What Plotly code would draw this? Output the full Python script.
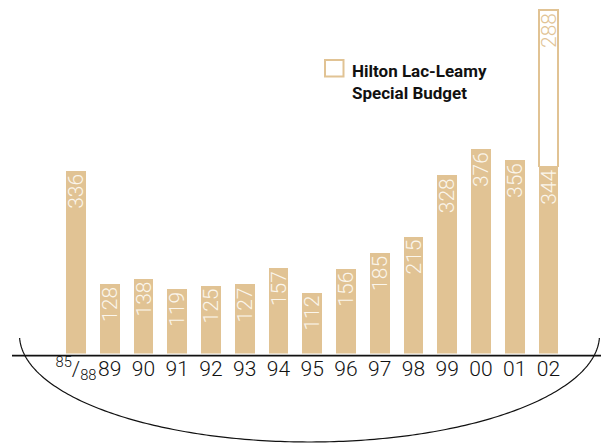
import numpy as np
import plotly.graph_objects as go

categories = ["85/88", "89", "90", "91", "92", "93", "94", "95", "96", "97", "98", "99", "00", "01", "02"]
tick_labels = ["<sup>85</sup>/<sub>88</sub>", "89", "90", "91", "92", "93", "94", "95", "96", "97", "98", "99", "00", "01", "02"]
budget = [336, 128, 138, 119, 125, 127, 157, 112, 156, 185, 215, 328, 376, 356, 344]
special = [None] * 14 + [288]

W, H = 601, 443
TAN = "#e1c394"
LABEL = "#fbf6ec"
FONT = "Roboto, DejaVu Sans Condensed, sans-serif"

fig = go.Figure()
fig.add_trace(go.Bar(
    x=categories, y=budget, marker=dict(color=TAN, line=dict(width=0)),
    text=[str(v) for v in budget], textposition="inside", insidetextanchor="end",
    textangle=-90, constraintext="none",
    textfont=dict(family=FONT, size=21, color=LABEL, weight=300),
    width=0.59, showlegend=False, hoverinfo="skip",
))
fig.add_trace(go.Bar(
    x=categories, y=special, marker=dict(color="white", line=dict(color=TAN, width=1.5)),
    text=[None if v is None else str(v) for v in special], textposition="inside", insidetextanchor="end",
    textangle=-90, constraintext="none",
    textfont=dict(family=FONT, size=21, color=TAN, weight=300),
    width=0.57, showlegend=False, hoverinfo="skip",
))

def px(x):
    return x / W

def py(y):
    return 1 - y / H

zero_px = 353.5
scale = 0.5435
ymax = zero_px / scale
spacing = 33.75
left = 76 - 0.5 * spacing
right = left + spacing * len(categories)

# lower arc
cx, cy, a, b = 309.5, 335.0, 290.0, 107.0
t0 = np.arcsin((338 - cy) / b)
ts = np.linspace(t0, np.pi - t0, 200)
xs = cx - a * np.cos(ts)
ys = cy + b * np.sin(ts)
path = "M " + " L ".join(f"{px(x):.5f},{py(y):.5f}" for x, y in zip(xs, ys))

shapes = [
    dict(type="path", path=path, xref="paper", yref="paper", line=dict(color="#111111", width=1.2)),
    dict(type="line", xref="paper", yref="paper", x0=px(12), x1=1, y0=py(355.7), y1=py(355.7),
         line=dict(color="#111111", width=1.8)),
    dict(type="rect", xref="paper", yref="paper", x0=px(325), x1=px(343.5), y0=py(60), y1=py(76.5),
         line=dict(color=TAN, width=2), fillcolor="white"),
]

fig.update_layout(
    width=W, height=H, margin=dict(l=0, r=0, t=0, b=0, autoexpand=False),
    paper_bgcolor="white", plot_bgcolor="white",
    barmode="stack", bargap=0.4,
    shapes=shapes,
    xaxis=dict(domain=[px(left), px(right)], type="category", tickmode="array",
               tickvals=categories, ticktext=tick_labels, showgrid=False, showline=False,
               zeroline=False, ticks="", ticklen=0, tickangle=0, automargin=False,
               tickfont=dict(family=FONT, size=21, color="#111111", weight=300)),
    yaxis=dict(domain=[py(zero_px), 1], range=[0, ymax], visible=False, showgrid=False,
               zeroline=False, automargin=False),
    annotations=[dict(xref="paper", yref="paper", x=px(350), y=py(59), xanchor="left", yanchor="top",
                      align="left", showarrow=False,
                      text="<b>Hilton Lac-Leamy<br>Special Budget</b>",
                      font=dict(family=FONT, size=17, color="#111111"))],
    font=dict(family=FONT),
)

fig.write_html("out.html", config={"displayModeBar": False},
               post_script="document.body.style.margin='0';document.body.style.overflow='hidden';")
